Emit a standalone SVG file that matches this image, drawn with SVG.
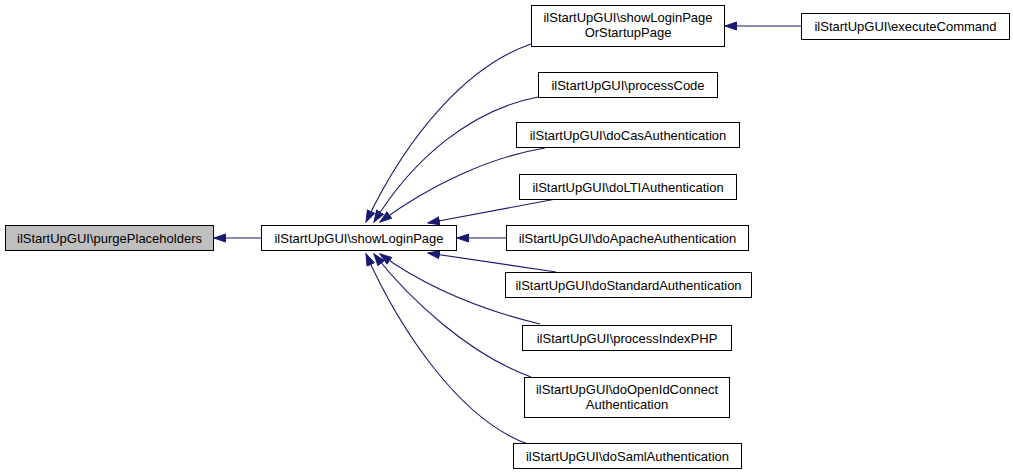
<svg xmlns="http://www.w3.org/2000/svg" width="1013" height="474" viewBox="0 0 1013 474">
<style>
.n rect{fill:#fff;stroke:#000;stroke-width:1}
.n text{font-family:"Liberation Sans",Arial,sans-serif;font-size:13px;fill:#000;text-anchor:middle}
.e path{fill:none;stroke:#191970;stroke-width:1.1}
</style>
<defs>
<marker id="a" markerUnits="userSpaceOnUse" markerWidth="14" markerHeight="10" refX="12" refY="5" orient="auto">
<path d="M0.5,1 L12,5 L0.5,9 Z" fill="#191970" stroke="#191970"/>
</marker>
</defs>
<rect width="1013" height="474" fill="#fff"/>
<g class="e">
<path d="M261,238 L214,238" marker-end="url(#a)"/>
<path d="M801,26 L725,26" marker-end="url(#a)"/>
<path d="M531,44 C470,65 410,130 366,222" marker-end="url(#a)"/>
<path d="M538,97 C470,110 412,160 374,222" marker-end="url(#a)"/>
<path d="M545,148 C490,157 430,185 380,222" marker-end="url(#a)"/>
<path d="M556,199 L428,223" marker-end="url(#a)"/>
<path d="M506,238 L457,238" marker-end="url(#a)"/>
<path d="M556,272 L428,253" marker-end="url(#a)"/>
<path d="M540,324 C490,312 430,290 380,254" marker-end="url(#a)"/>
<path d="M531,377 C470,355 410,300 374,254" marker-end="url(#a)"/>
<path d="M528,444 C460,420 400,330 366,254" marker-end="url(#a)"/>
</g>
<g class="n" id="purgePlaceholders"><rect x="5.5" y="225.5" width="208" height="25" style="fill:#bfbfbf"/><text x="109.5" y="242.5">ilStartUpGUI\purgePlaceholders</text></g>
<g class="n" id="showLoginPage"><rect x="261.5" y="225.5" width="195" height="25"/><text x="359" y="242.5">ilStartUpGUI\showLoginPage</text></g>
<g class="n" id="showLoginPageOrStartupPage"><rect x="531.5" y="5.5" width="193" height="41"/><text x="628" y="22">ilStartUpGUI\showLoginPage</text><text x="628" y="37">OrStartupPage</text></g>
<g class="n" id="executeCommand"><rect x="801.5" y="13.5" width="208" height="26"/><text x="905.5" y="30.5">ilStartUpGUI\executeCommand</text></g>
<g class="n" id="processCode"><rect x="538.5" y="72.5" width="179" height="25"/><text x="628" y="89.5">ilStartUpGUI\processCode</text></g>
<g class="n" id="doCasAuthentication"><rect x="516.5" y="122.5" width="223" height="25"/><text x="628" y="139.5">ilStartUpGUI\doCasAuthentication</text></g>
<g class="n" id="doLTIAuthentication"><rect x="519.5" y="174.5" width="217" height="25"/><text x="628" y="191.5">ilStartUpGUI\doLTIAuthentication</text></g>
<g class="n" id="doApacheAuthentication"><rect x="506.5" y="225.5" width="242" height="25"/><text x="627.5" y="242.5">ilStartUpGUI\doApacheAuthentication</text></g>
<g class="n" id="doStandardAuthentication"><rect x="505.5" y="272.5" width="246" height="25"/><text x="628.5" y="289.5">ilStartUpGUI\doStandardAuthentication</text></g>
<g class="n" id="processIndexPHP"><rect x="522.5" y="325.5" width="209" height="25"/><text x="627" y="342.5">ilStartUpGUI\processIndexPHP</text></g>
<g class="n" id="doOpenIdConnectAuthentication"><rect x="524.5" y="377.5" width="205" height="40"/><text x="627" y="393.5">ilStartUpGUI\doOpenIdConnect</text><text x="627" y="408.5">Authentication</text></g>
<g class="n" id="doSamlAuthentication"><rect x="513.5" y="443.5" width="228" height="25"/><text x="627.5" y="460.5">ilStartUpGUI\doSamlAuthentication</text></g>
</svg>
